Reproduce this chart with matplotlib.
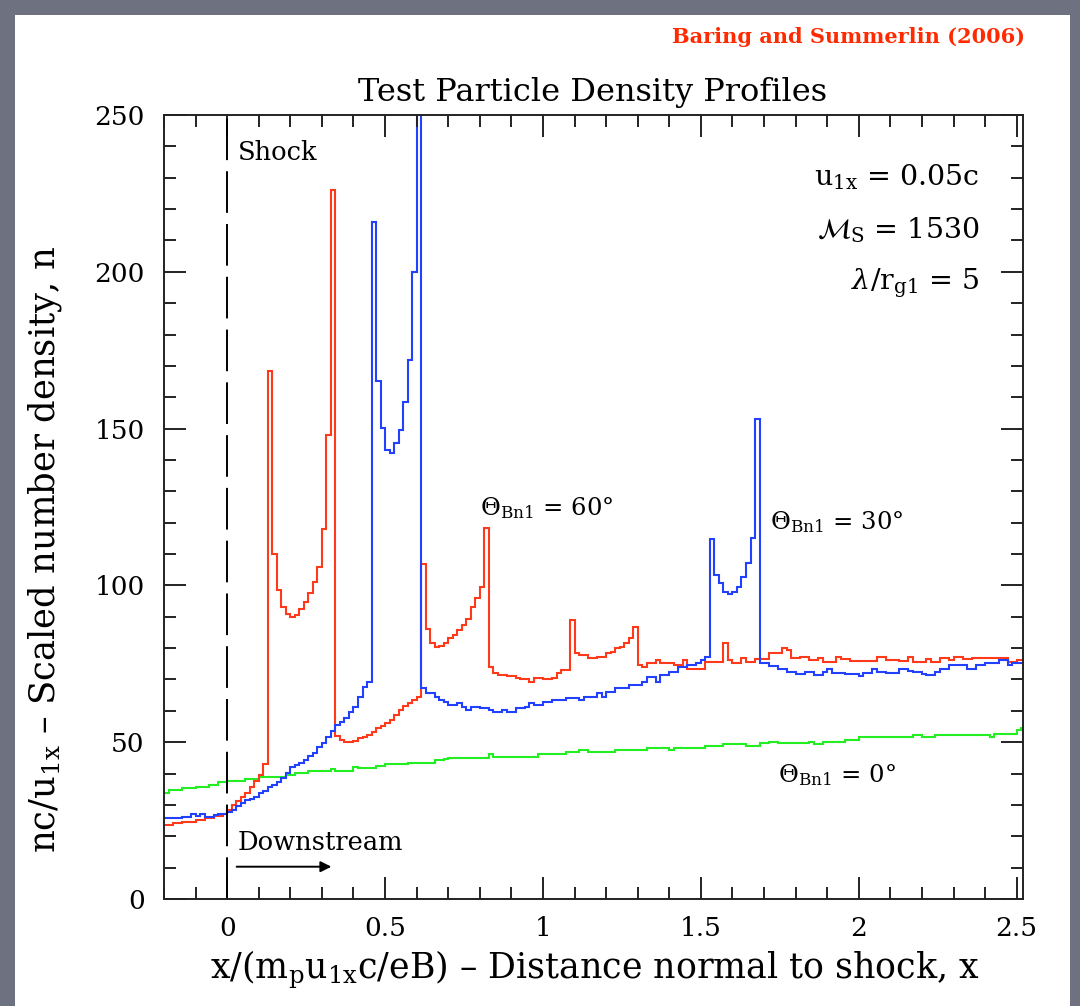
import numpy as np
import matplotlib
matplotlib.use("Agg")
import matplotlib.pyplot as plt
from matplotlib.patches import Rectangle
from matplotlib.ticker import MultipleLocator

plt.rcParams['font.family'] = ['DejaVu Serif']
plt.rcParams['mathtext.fontset'] = 'dejavuserif'
plt.rcParams['lines.scale_dashes'] = False

# ---- data: histogram bins of width 1/70 starting at x = -0.2 ----
x_start = -0.2
bin_width = 1.0 / 70.0

red_60 = [23.6, 23.6, 24.1, 24.1, 24.6, 24.6, 24.6, 25.2, 25.2, 25.7, 25.7, 26.5, 26.5, 27.1,
          28.5, 30.0, 31.3, 32.5, 33.7, 35.8, 37.5, 39.5, 43.0,
          168.5,
          110.0, 98.5, 93.2, 91.0, 89.8, 90.5, 92.4, 94.8, 97.5, 101.0, 106.0, 118.0, 148.0,
          226.0,
          52.0, 50.7, 50.2, 50.2, 50.5, 51.2, 51.5, 52.3, 53.3, 54.4, 55.2, 56.0, 57.0, 58.7, 60.3, 61.5,
          62.4, 63.5, 64.5,
          106.8, 86.0, 81.5, 80.5, 80.8, 81.5, 83.1, 84.2, 85.8, 87.4, 89.2, 93.2, 96.0, 99.4, 118.2,
          74.1, 72.0, 71.4, 71.4, 71.1, 71.1, 70.4, 70.0, 70.0, 69.3, 70.4, 70.4, 70.0, 70.0, 70.6, 72.0,
          73.0, 73.0, 89.0,
          78.3, 77.8, 77.8, 77.0, 77.0, 77.3, 77.3, 78.3, 78.8, 79.9, 80.2, 81.7, 83.1, 86.8,
          74.6, 74.1, 75.1, 75.1, 76.2, 75.1, 75.1, 75.1, 74.6, 74.6, 76.2, 73.5, 73.5, 73.5, 73.5, 75.7,
          75.7, 75.7, 75.7, 81.5,
          76.2, 75.4, 75.4, 76.7, 75.7, 75.7, 76.4, 76.4, 76.4, 78.3, 78.3, 78.3, 80.1, 79.4, 76.7, 76.7,
          77.3, 77.3, 76.2, 76.2, 77.0, 75.7, 75.7, 75.7, 77.3, 76.4, 76.4, 75.9, 75.9, 75.9, 75.9, 75.9,
          75.9, 77.3, 77.3, 76.2, 76.2, 76.2, 75.9, 75.9, 77.3, 75.7, 75.7, 75.7, 76.4, 75.7, 75.7, 76.7,
          76.7, 76.2, 77.3, 77.3, 76.4, 76.4, 77.0, 77.0, 77.0, 77.0, 77.0, 77.0, 77.0, 77.0, 75.7, 75.7,
          76.2, 76.2]

blue_30 = [25.7, 25.7, 25.7, 25.7, 26.2, 26.2, 27.1, 26.5, 27.1, 26.2, 26.2, 26.8, 27.1, 27.1,
           27.8, 28.5, 29.5, 30.5, 31.6, 32.0, 32.5, 33.8, 34.5, 35.8, 36.5, 37.4, 38.5, 40.1, 42.0, 42.7,
           43.5, 44.3, 45.5, 46.5, 48.5, 49.6, 51.5, 53.5, 55.5, 56.5, 57.6, 59.5, 61.3, 64.5, 67.7, 69.3,
           216.0,
           165.3, 150.3, 143.2, 142.1, 145.5, 149.6, 158.4, 171.9, 199.8,
           265.0,
           67.2, 65.6, 65.6, 64.5, 63.5, 62.9, 61.9, 61.9, 62.6, 61.3, 60.3, 61.3, 61.3, 60.8, 60.8, 60.3,
           59.7, 59.7, 60.3, 59.7, 59.7, 60.8, 60.8, 61.3, 62.4, 61.9, 61.9, 62.9, 62.9, 63.5, 63.5, 63.5,
           64.0, 64.0, 64.0, 63.5, 64.5, 64.5, 64.5, 65.6, 64.5, 66.1, 66.1, 67.2, 67.2, 67.2, 68.2, 68.2,
           68.2, 69.3, 70.9, 70.9, 69.3, 71.4, 71.4, 72.5, 72.5, 74.1, 74.1, 74.6, 74.6, 75.1, 76.2, 77.3,
           114.7, 103.3, 100.7, 98.0, 97.3, 98.0, 99.6, 102.6, 107.0, 115.0, 153.0,
           75.1, 75.1, 74.3, 74.3, 73.5, 73.5, 72.5, 72.5, 71.9, 71.9,
           72.5, 72.5, 71.4, 71.4, 72.5, 73.2, 72.2, 72.2, 72.2, 71.9,
           71.9, 71.9, 71.1, 72.2, 72.2, 73.2, 72.5, 72.5, 72.2, 72.2,
           72.2, 73.5, 73.5, 72.8, 72.5, 72.5, 71.7, 71.4, 71.4, 72.5,
           73.5, 73.5, 74.6, 74.6, 74.6, 74.6, 73.5, 73.5, 74.6, 74.6,
           75.4, 75.4, 75.4, 76.2, 76.2, 74.6, 75.1, 75.1, 75.1]

green_0 = [33.9, 34.8, 34.8, 34.8, 35.3, 35.3, 35.3, 35.8, 35.8, 35.8,
           36.4, 36.4, 37.2, 37.2, 37.6, 37.6, 37.6, 37.6, 38.2, 38.2,
           38.2, 39.0, 39.0, 39.0, 39.0, 39.0, 39.0, 39.5, 39.5, 40.1,
           40.1, 40.1, 40.9, 40.9, 40.9, 40.9, 40.9, 41.5, 40.9, 40.9,
           40.9, 40.9, 42.0, 41.7, 41.7, 41.7, 41.7, 42.4, 42.4, 43.2,
           43.0, 43.0, 43.0, 43.0, 43.5, 43.5, 43.5, 43.5, 43.5, 43.5,
           44.3, 44.3, 44.6, 45.1, 45.1, 45.1, 45.1, 45.1, 45.1, 45.1,
           45.1, 45.1, 46.2, 45.4, 45.4, 45.4, 45.4, 45.4, 45.4, 45.4,
           45.4, 45.4, 45.4, 46.2, 46.2, 46.2, 46.2, 46.2, 46.2, 46.8,
           46.8, 46.8, 47.5, 47.5, 46.8, 46.8, 46.8, 46.8, 46.8, 46.8,
           47.5, 47.5, 47.5, 47.5, 47.5, 47.5, 47.5, 48.2, 48.2, 48.2,
           48.2, 48.2, 47.5, 48.2, 48.2, 48.2, 48.2, 48.2, 48.2, 48.2,
           48.9, 48.9, 48.9, 48.9, 49.4, 49.4, 49.4, 49.4, 49.4, 48.8,
           48.8, 48.8, 49.6, 49.6, 50.2, 50.2, 49.6, 49.6, 49.6, 49.6,
           49.6, 49.6, 49.6, 50.2, 49.4, 49.4, 50.2, 50.2, 50.2, 50.2,
           50.2, 50.7, 50.7, 50.7, 51.6, 51.6, 51.8, 51.8, 51.8, 51.8,
           51.8, 51.8, 51.6, 51.6, 51.6, 51.6, 52.3, 52.3, 51.8, 51.8,
           51.8, 52.3, 52.3, 52.3, 52.3, 52.3, 52.3, 52.3, 52.3, 52.3,
           52.3, 52.3, 52.3, 51.8, 52.5, 52.5, 52.5, 52.5, 52.5, 53.9,
           54.4]

x_ticks = [0, 0.5, 1, 1.5, 2, 2.5]
x_tick_labels = ['0', '0.5', '1', '1.5', '2', '2.5']
y_ticks = [0, 50, 100, 150, 200, 250]
y_tick_labels = ['0', '50', '100', '150', '200', '250']

n_bins = len(red_60)
edges = x_start + bin_width * np.arange(n_bins + 1)

# ---- figure ----
W, H, DPI = 1080, 1006, 100
fig = plt.figure(figsize=(W / DPI, H / DPI), dpi=DPI, facecolor='#6e717f')
fig.patches.append(Rectangle((15 / W, 0), (1070 - 15) / W, 1 - 15 / H,
                             transform=fig.transFigure, facecolor='white',
                             edgecolor='none', zorder=-10))

ax = fig.add_axes([164 / W, 1 - 899 / H, (1023 - 164) / W, (899 - 115) / H])
ax.set_facecolor('white')

lw = 1.5
ax.stairs(green_0, edges, baseline=None, color='#22ee22', lw=lw)
ax.stairs(red_60, edges, baseline=None, color='#ff3a1a', lw=lw)
ax.stairs(blue_30, edges, baseline=None, color='#2241ff', lw=lw)

ax.axvline(0, color='black', lw=1.4, dashes=(30, 8))

ax.set_xlim(-0.2, 2.52)
ax.set_ylim(0, 250)

ax.set_xticks(x_ticks)
ax.set_xticklabels(x_tick_labels)
ax.set_yticks(y_ticks)
ax.set_yticklabels(y_tick_labels)
ax.xaxis.set_minor_locator(MultipleLocator(0.1))
ax.yaxis.set_minor_locator(MultipleLocator(10))
ax.tick_params(which='both', direction='in', top=True, right=True, width=1.4, color='#222222')
ax.tick_params(which='major', length=16)
ax.tick_params(which='minor', length=8.5)
ax.tick_params(axis='x', which='major', labelsize=19, pad=12)
ax.tick_params(axis='y', which='major', labelsize=19, pad=14)
for s in ax.spines.values():
    s.set_linewidth(1.4)
    s.set_color('#222222')

# ---- texts ----
fig.text(1025 / W, 1 - 37 / H, 'Baring and Summerlin (2006)', color='#ff2a00',
         fontsize=15, fontweight='bold', ha='right', va='center')
fig.text(593 / W, 1 - 92 / H, 'Test Particle Density Profiles', fontsize=23,
         ha='center', va='center')
fig.text(45 / W, 1 - 550 / H, r'nc/u$_{\rm 1x}$ – Scaled number density, n',
         fontsize=25.5, rotation=90, ha='center', va='center')
fig.text(595 / W, 1 - 970 / H, r'x/(m$_{\rm p}$u$_{\rm 1x}$c/eB) – Distance normal to shock, x',
         fontsize=25, ha='center', va='center')

ax.text(0.034, 238, 'Shock', fontsize=18.5, ha='left', va='center')
ax.text(0.034, 18, 'Downstream', fontsize=18.5, ha='left', va='center')
ax.annotate('', xy=(0.33, 10.3), xytext=(0.03, 10.3),
            arrowprops=dict(arrowstyle='-|>', color='black', lw=1.4,
                            mutation_scale=16, shrinkA=0, shrinkB=0))

ax.text(2.382, 230.3, r'u$_{\rm 1x}$ = 0.05c', fontsize=20.5, ha='right', va='center')
ax.text(2.382, 213.3, r'$\mathcal{M}_{\rm S}$ = 1530', fontsize=20.5, ha='right', va='center')
ax.text(2.382, 196.4, r'$\lambda$/r$_{\rm g1}$ = 5', fontsize=20.5, ha='right', va='center')

ax.text(0.80, 124.7, r'$\Theta_{\rm Bn1}$ = 60°', fontsize=17.5, ha='left', va='center')
ax.text(1.72, 120.3, r'$\Theta_{\rm Bn1}$ = 30°', fontsize=17.5, ha='left', va='center')
ax.text(1.745, 39.5, r'$\Theta_{\rm Bn1}$ = 0°', fontsize=17.5, ha='left', va='center')

fig.savefig('out.png', dpi=DPI, facecolor=fig.get_facecolor())
